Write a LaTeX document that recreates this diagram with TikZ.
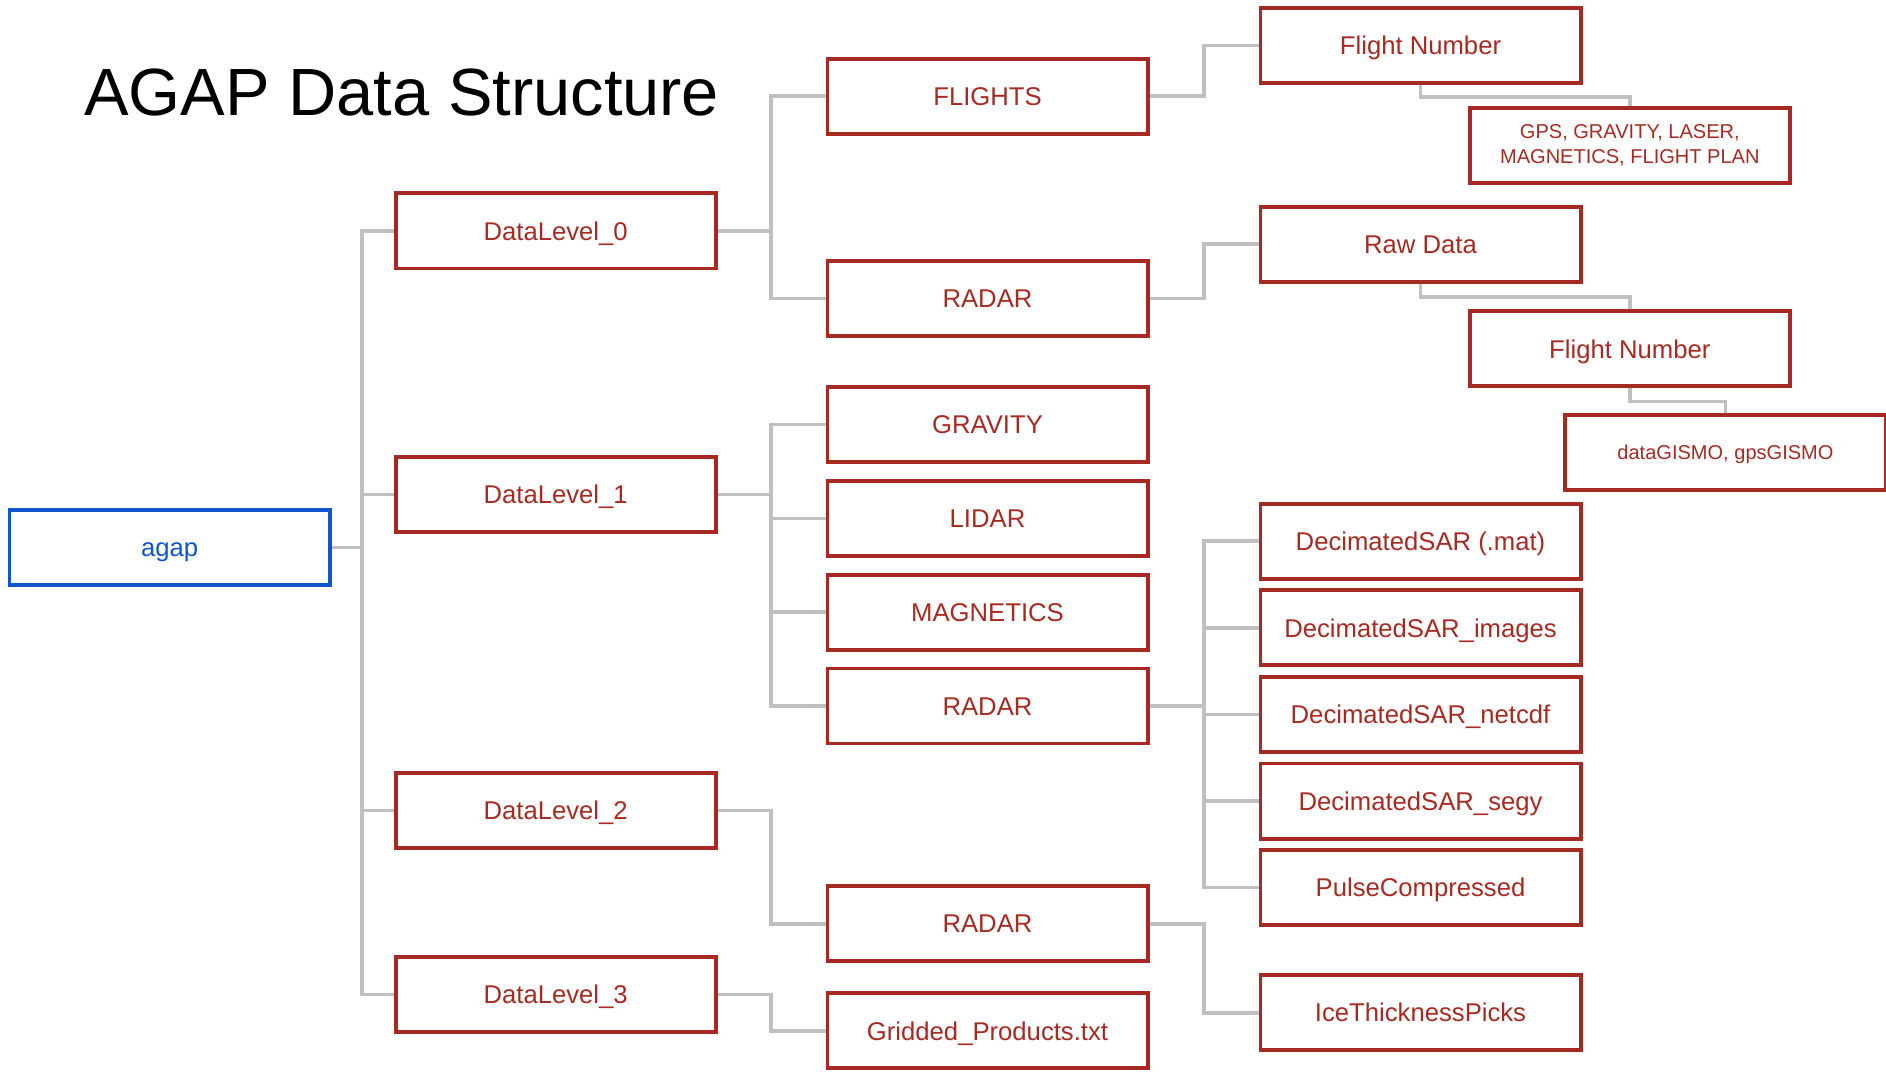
\documentclass[tikz,border=0pt]{standalone}
\usepackage{fontspec}
\setmainfont{Liberation Sans}
\definecolor{boxred}{RGB}{166,42,34}
\definecolor{agapblue}{RGB}{17,85,204}
\definecolor{linkgray}{RGB}{192,192,192}
\tikzset{
  box/.style={draw=boxred, line width=1.1pt, minimum width=3.2cm, minimum height=0.75cm,
    inner sep=0pt, text=boxred, align=center, text height=5.25pt, text depth=0pt,
    font=\fontsize{7.3}{8.5}\selectfont},
  rootbox/.style={box, draw=agapblue, text=agapblue},
  smallbox/.style={box, text height=4.1pt, font=\fontsize{5.7}{7.1}\selectfont},
  link/.style={draw=linkgray, line width=1pt}
}
\begin{document}
\begin{tikzpicture}[x=0.012028cm, y=-0.012028cm, line join=miter]
    \useasboundingbox (0,0) rectangle (1568,891);
    \clip (0,0) rectangle (1568,891);
    \node[anchor=base, font=\fontsize{19}{22}\selectfont] (title) at (334,96) {AGAP Data Structure};
    % root and levels
    \node[rootbox] (agap) at (141,455) {agap};
    \foreach \n/\y/\t in {dl0/192/DataLevel\_0, dl1/411/DataLevel\_1, dl2/674/DataLevel\_2, dl3/827/DataLevel\_3}
        \node[box] (\n) at (462,\y) {\t};
    % third column
    \foreach \n/\y/\t in {flights/80/FLIGHTS, radarA/248/RADAR, gravity/353/GRAVITY, lidar/431/LIDAR,
        magnetics/509/MAGNETICS, radarB/587/RADAR, radarC/768/RADAR, gridded/857/Gridded\_Products.txt}
        \node[box] (\n) at (821,\y) {\t};
    % fourth column
    \foreach \n/\y/\t in {fnA/38/Flight Number, raw/203/Raw Data, sarA/450/DecimatedSAR (.mat),
        sarB/522/DecimatedSAR\_images, sarC/594/DecimatedSAR\_netcdf, sarD/666/DecimatedSAR\_segy,
        pulse/738/PulseCompressed, ice/842/IceThicknessPicks}
        \node[box] (\n) at (1181,\y) {\t};
    \node[smallbox, text height=, text depth=] (sensors) at (1355,121) {GPS, GRAVITY, LASER,\\MAGNETICS, FLIGHT PLAN};
    \node[box] (fnB) at (1355,290) {Flight Number};
    \node[smallbox] (gismo) at (1434.5,376) {dataGISMO, gpsGISMO};
    % connectors
    \coordinate (j0) at (301,455);
    \coordinate (j1) at (641,192);
    \coordinate (j2) at (641,411);
    \coordinate (j3) at (641,674);
    \coordinate (j4) at (641,827);
    \coordinate (j5) at (1001,80);
    \coordinate (j6) at (1001,248);
    \coordinate (j7) at (1001,587);
    \coordinate (j8) at (1001,768);
    \draw[link] (agap.east) -- (j0);
    \foreach \n in {dl0,dl1,dl2,dl3}
        \draw[link] (j0) |- (\n.west);
    \draw[link] (dl0.east) -- (j1);
    \foreach \n in {flights,radarA}
        \draw[link] (j1) |- (\n.west);
    \draw[link] (dl1.east) -- (j2);
    \foreach \n in {gravity,lidar,magnetics,radarB}
        \draw[link] (j2) |- (\n.west);
    \draw[link] (dl2.east) -- (j3) |- (radarC.west);
    \draw[link] (dl3.east) -- (j4) |- (gridded.west);
    \draw[link] (flights.east) -- (j5) |- (fnA.west);
    \draw[link] (radarA.east) -- (j6) |- (raw.west);
    \draw[link] (fnA.south) -- ++(0,10) -| (sensors.north);
    \draw[link] (raw.south) -- ++(0,11) -| (fnB.north);
    \draw[link] (fnB.south) -- ++(0,11) -| (gismo.north);
    \draw[link] (radarB.east) -- (j7);
    \foreach \n in {sarA,sarB,sarC,sarD,pulse}
        \draw[link] (j7) |- (\n.west);
    \draw[link] (radarC.east) -- (j8) |- (ice.west);
\end{tikzpicture}
\end{document}
